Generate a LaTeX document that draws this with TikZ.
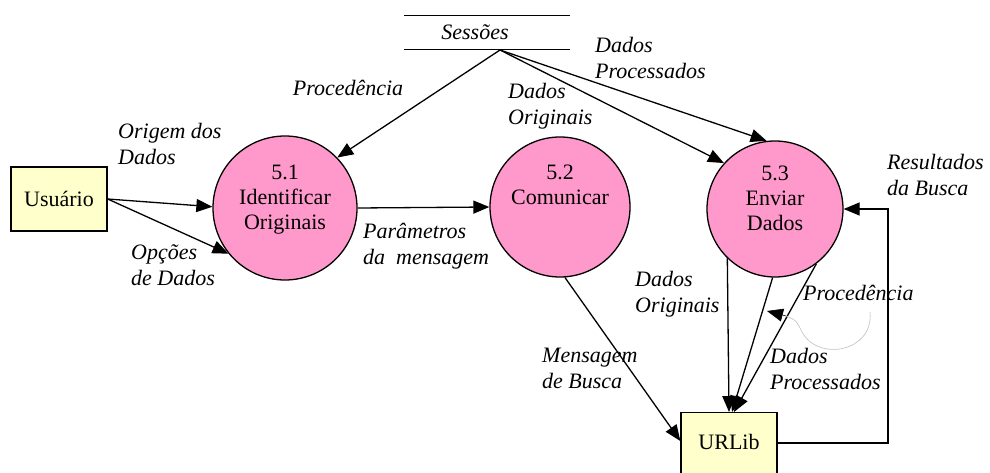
\documentclass[tikz,border=0pt]{standalone}
\usepackage{fontspec}
\setmainfont{Liberation Serif}
\usetikzlibrary{arrows.meta}
\definecolor{procpink}{HTML}{FF99CC}
\definecolor{entyellow}{HTML}{FFFFCC}
\begin{document}
\begin{tikzpicture}[x=1pt,y=-1pt,
  every node/.style={font=\fontsize{22}{26}\selectfont},
  proc/.style={circle,draw,line width=1.3pt,fill=procpink,inner sep=0pt},
  entity/.style={rectangle,draw,line width=1.3pt,fill=entyellow,inner sep=0pt},
  flow/.style={line width=1.3pt,-{Triangle[length=16pt,width=13pt]}},
  lbl/.style={font=\fontsize{22}{26}\selectfont\itshape,align=left,anchor=west,inner sep=0pt},
  ptext/.style={align=center,anchor=north,inner sep=0pt,font=\fontsize{22}{25}\selectfont}]
\useasboundingbox (0,0) rectangle (990,473);
% store
\draw[line width=1pt] (404,16) -- (570,16);
\draw[line width=1pt] (404,50) -- (570,50);
\node[font=\fontsize{22}{26}\selectfont\itshape,inner sep=0pt] (ses) at (475,32) {Sessões};
\coordinate (sB) at (500,50);
% entities
\node[entity,minimum width=96pt,minimum height=64pt] (u) at (59,199) {Usuário};
\node[entity,minimum width=96pt,minimum height=78pt,anchor=north] (ul) at (729,412) {};
\node at (729,442) {URLib};
% processes
\node[proc,minimum size=144pt] (p1) at (285,208) {};
\node[proc,minimum size=140pt] (p2) at (560,207) {};
\node[proc,minimum size=136pt] (p3) at (775,209) {};
\node[ptext] at (285,165) {5.1\\Identificar\\Originais};
\node[ptext] at (560,165) {5.2\\Comunicar};
\node[ptext] at (775,166) {5.3\\Enviar\\Dados};
% flows
\draw[flow] (sB) -- (p1.44);
\draw[flow] (sB) -- (p3.138);
\draw[flow] (sB) -- (p3.97);
\draw[flow] (u.east) -- (p1.179);
\draw[flow] (u.east) -- (p1.219);
\draw[flow] (p1.east) -- (p2.west);
\draw[flow] (p2.274) -- (ul.west |- 0,441);
\draw[flow] (p3.226) -- (ul.north);
\draw[flow] (p3.268) -- ([xshift=3pt]ul.north);
\draw[flow] (p3.307) -- ([xshift=5pt]ul.north);
\draw[flow] (ul.east |- 0,443) -- (888,443) |- (p3.east);
% small gray curve
\coordinate (gc1) at (870,312);
\coordinate (gc2) at (786,316);
\coordinate (gc3) at (767,311);
\draw[gray!50,line width=0.6pt] (gc1) .. controls (874,352) and (818,362) .. (802,332) .. controls (796,320) .. (gc2);
\draw[line width=0.6pt,-{Triangle[length=16pt,width=13pt]}] (gc2) -- (gc3);
% labels
\node[lbl,anchor=center] at (348,88) {Procedência};
\node[lbl] at (595,58) {Dados\\Processados};
\node[lbl] at (508,106) {Dados\\Originais};
\node[lbl] at (118,144) {Origem dos\\Dados};
\node[lbl] at (131,265) {Opções\\de Dados};
\node[lbl] at (363,246) {Parâmetros\\da~~mensagem};
\node[lbl] at (887,175) {Resultados\\da Busca};
\node[lbl] at (635,294) {Dados\\Originais};
\node[lbl] at (803,293) {Procedência};
\node[lbl] at (770,369) {Dados\\Processados};
\node[lbl] at (542,368) {Mensagem\\de Busca};
\end{tikzpicture}
\end{document}
